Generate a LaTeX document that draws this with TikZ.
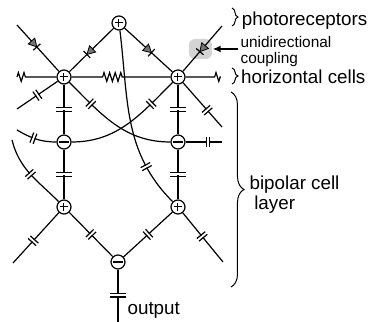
\documentclass[tikz,border=0pt]{standalone}
\usepackage{fontspec}
\setmainfont{Liberation Sans}
\usetikzlibrary{arrows.meta,decorations.pathmorphing,decorations.markings,decorations.pathreplacing}
\tikzset{
         cell/.style={circle,draw,fill=white,inner sep=0pt,minimum size=7pt},
         plus/.style={cell,path picture={\draw[line width=0.5pt] (path picture bounding box.center) +(-2.2pt,0) -- +(2.2pt,0) +(0,-2.2pt) -- +(0,2.2pt);}},
         minus/.style={cell,path picture={\draw[line width=1.3pt] (path picture bounding box.center) +(-2.3pt,0) -- +(2.3pt,0);}},
         capac/.style={postaction={decorate,decoration={markings,mark=at position #1 with
          {\fill[white] (-0.5pt,-2.9pt) rectangle (0.5pt,2.9pt);
           \draw (-0.85pt,-2.7pt) -- (-0.85pt,2.7pt) (0.85pt,-2.7pt) -- (0.85pt,2.7pt);}}}},
         capwide/.style={postaction={decorate,decoration={markings,mark=at position #1 with
          {\fill[white] (-0.5pt,-3.9pt) rectangle (0.5pt,3.9pt);
           \draw (-0.85pt,-3.8pt) -- (-0.85pt,3.8pt) (0.85pt,-3.8pt) -- (0.85pt,3.8pt);}}}},
         diode/.style={postaction={decorate,decoration={markings,mark=at position #1 with
          {\filldraw[fill=black!55,line width=0.4pt] (-2pt,-2.2pt) -- (2pt,0pt) -- (-2pt,2.2pt) -- cycle;
           \draw (2pt,-2.4pt) -- (2pt,2.4pt);}}}},
         resist/.style 2 args={decorate,decoration={zigzag,segment length=2.8pt,amplitude=2.2pt,pre length=#1,post length=#2}},
         coupbox/.style={fill=black!17,rounded corners=3pt,minimum width=11.5pt,minimum height=10pt,inner sep=0pt},
         brace/.style={decorate,decoration={brace,amplitude=#1},line width=0.5pt},
         lbl/.style={font=\fontsize{9.4pt}{11pt}\selectfont,inner sep=0pt},
         smalllbl/.style={font=\fontsize{7.7pt}{9pt}\selectfont,inner sep=0pt}
        }

\begin{document}
\begin{tikzpicture}[x=5pt,y=5pt,line width=0.6pt]
\useasboundingbox (0,0) rectangle (37.2,32.2);
\node[coupbox] (gc) at (20.05,27.3) {}; % coupling highlight
% cells
\node[plus] (T) at (11.9,29.9) {}; % photoreceptor
\node[plus] (H1) at (6.4,24.5) {}; % horizontal cells
\node[plus] (H2) at (17.8,24.5) {};
\node[minus] (M1) at (6.4,18.0) {}; % bipolar cells
\node[minus] (M2) at (17.8,18.0) {};
\node[plus] (B1) at (6.4,11.5) {};
\node[plus] (B2) at (17.8,11.5) {};
\node[minus] (O) at (11.8,6.0) {}; % output cell
% free ends
\coordinate (pl) at (1.7,29.7);
\coordinate (pr) at (22.2,29.6);
\coordinate (hl) at (1.7,24.5);
\coordinate (hr) at (22.1,24.5);
\coordinate (dl) at (1.7,21.3);
\coordinate (dr) at (22.2,19.5);
\coordinate (ml) at (1.7,19.2);
\coordinate (mr) at (22.2,18.0);
\coordinate (bl) at (1.2,18.2);
\coordinate (ol) at (1.3,5.9);
\coordinate (orr) at (22.3,6.0);
\coordinate (oe) at (11.8,0);
% photoreceptor to horizontal cells
\draw[diode=0.41] (pl) -- (H1);
\draw[diode=0.54] (T) -- (H1);
\draw[diode=0.5] (T) -- (H2);
\draw[diode=0.5] (pr) -- (H2);
% horizontal cell coupling
\draw[resist={0pt}{15pt}] (hl) -- (H1);
\draw[resist={15.5pt}{23.5pt}] (H1) -- (H2);
\draw[resist={14.5pt}{0pt}] (H2) -- (hr);
% horizontal to bipolar
\draw[capwide=0.5] (H1) -- (M1);
\draw[capwide=0.5] (H2) -- (M2);
\draw[capac=0.5] (H1) -- (dl);
\draw[capac=0.62] (H2) -- (dr);
\draw[capac=0.25] (H1) to[out=-45,in=180] (M2);
\draw[capac=0.75] (M1) to[out=0,in=-135] (H2);
\draw[capac=0.44] (ml) to[out=-30,in=180] (M1);
\draw[capac=0.62] (M2) -- (mr);
% bipolar layers
\draw[capwide=0.5] (M1) -- (B1);
\draw[capwide=0.5] (M2) -- (B2);
\draw[capac=0.76] (T) to[out=-83,in=135] (B2);
\draw[capac=0.5] (bl) to[out=-76,in=135] (B1);
\draw[capac=0.56] (B1) -- (ol);
\draw[capac=0.5] (B1) -- (O);
\draw[capac=0.5] (B2) -- (O);
\draw[capac=0.48] (B2) -- (orr);
\draw[capwide=0.49] (O) -- (oe);
% labels
\node[lbl,anchor=base west] (phot) at (24.13,29.65) {photoreceptors};
\node[smalllbl,anchor=base west] (unid) at (24.0,27.47) {unidirectional};
\node[smalllbl,anchor=base west] (coup) at (24.0,25.85) {coupling};
\node[lbl,anchor=base west] (horz) at (24.05,23.87) {horizontal cells};
\node[lbl,anchor=base west] (bip) at (24.9,13.2) {bipolar cell};
\node[lbl,anchor=base west] (lay) at (25.37,11.2) {layer};
\node[lbl,anchor=base west] (outp) at (12.7,0.7) {output};
\draw[{Latex[length=4pt,width=3.5pt]}-,line width=0.8pt] (gc.east) -- ([xshift=-1pt]gc.east -| unid.west); % coupling arrow
% braces
\draw[brace=3pt] (23.2,31.4) -- (23.2,29.6);
\draw[brace=3pt] (23.2,25.4) -- (23.2,23.8);
\draw[brace=6.5pt] (23.1,23.0) -- (23.1,3.5);
\end{tikzpicture}
\end{document}
